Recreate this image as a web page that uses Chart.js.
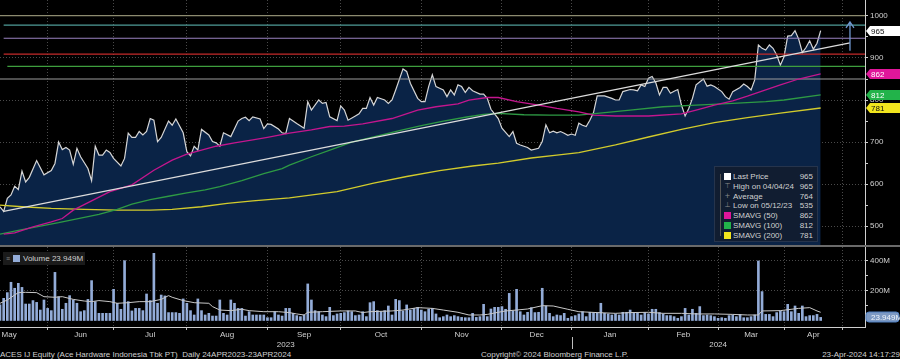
<!DOCTYPE html>
<html lang="en">
<head>
<meta charset="UTF-8">
<script src="https://cdn.jsdelivr.net/npm/chart.js"></script>
<style>
    body {
        margin: 0;
        background: #000;
        width: 900px;
        height: 359px;
        overflow: hidden;
        position: relative;
        font-family: "Liberation Sans", Arial, sans-serif;
        color: #d0d0d0;
    }
    #priceBox { position: absolute; left: 0; top: 0; }
    #sep { position: absolute; left: 0; top: 245px; width: 900px; height: 2px; background: #6a6a6a; }
    #volBox { position: absolute; left: 0; top: 247px; }
    #legend {
        position: absolute; left: 714px; top: 166px; width: 104px; height: 76px;
        background: #111d31; border: 1px solid #26344c; box-sizing: border-box;
        font-size: 8px; line-height: 9.8px; padding-top: 5px;
    }
    #legend .row { position: relative; height: 9.8px; }
    #legend .mk { position: absolute; left: 9px; top: 1px; width: 7px; height: 7px; }
    #legend .gl { position: absolute; left: 9px; top: 0; width: 7px; text-align: center; color: #8a8a8a; font-family: "DejaVu Sans", sans-serif; font-size: 7px; }
    #legend .lb { position: absolute; left: 18px; }
    #legend .vl { position: absolute; right: 4px; }
    #tree { position: absolute; left: 5px; top: 7px; width: 1px; height: 62px; background: #555; }
    #volLegend {
        position: absolute; left: 3px; top: 252px; width: 82px; height: 13px;
        background: #1b1b1b; font-size: 8px; line-height: 13px;
    }
    #volLegend .ic { position: absolute; left: 3px; color: #888; font-size: 7px; }
    #volLegend .sq { position: absolute; left: 10px; top: 3px; width: 7px; height: 7px; background: #93acd8; }
    #volLegend .tx { position: absolute; left: 20px; }
    .foot { position: absolute; top: 350px; font-size: 8px; line-height: 9px; white-space: nowrap; }
</style>
</head>
<body>
    <div id="priceBox"><canvas id="price" width="900" height="245"></canvas></div>
    <div id="sep"></div>
    <div id="volBox"><canvas id="vol" width="900" height="102"></canvas></div>
    <div id="legend"><div id="tree"></div></div>
    <div id="volLegend"><span class="ic">&#8801;</span><span class="sq"></span><span class="tx">Volume 23.949M</span></div>
    <div class="foot" style="left:0">ACES IJ Equity (Ace Hardware Indonesia Tbk PT)&nbsp; Daily 24APR2023-23APR2024</div>
    <div class="foot" style="left:481px">Copyright&copy; 2024 Bloomberg Finance L.P.</div>
    <div class="foot" style="right:0">23-Apr-2024 14:17:29</div>
<script>
// trading sessions counted from 11 May 2023 (session 0) to 23 Apr 2024 (session 224)
const priceSession = [0,1,2,3,4,5,6,7,8,10,12,14,15,16,17,18,19,20,21,22,24,25,26,27,28,29,30,31,33,34,35,36,37,38,39,40,41,42,43,44,46,47,48,50,51,52,53,54,55,57,58,59,60,61,63,65,66,67,68,69,71,72,73,74,76,77,78,79,81,83,84,85,87,88,89,90,92,93,94,95,97,98,99,100,101,102,103,105,106,107,108,110,111,112,114,115,116,117,118,119,120,121,122,123,124,125,126,127,128,129,131,132,133,134,136,137,139,140,141,142,144,145,147,148,149,150,151,152,153,154,155,156,157,158,159,160,161,162,163,165,167,168,169,170,172,173,174,175,176,177,178,179,180,181,182,183,184,185,186,187,188,189,190,192,193,194,195,197,198,199,200,202,203,204,205,206,207,208,209,210,211,212,213,214,215,216,217,218,219,220,221,222,223,224];
const priceClose = [546,535,566,574,595,587,631,605,616,656,622,632,649,700,682,687,681,647,685,665,637,608,690,669,669,681,675,661,643,661,721,711,711,725,717,725,756,752,701,711,750,740,755,722,677,667,690,681,730,717,701,698,690,722,713,750,756,759,751,760,755,732,743,742,731,722,720,756,744,733,796,776,800,792,794,760,751,786,776,752,762,767,780,780,806,788,806,800,792,800,824,874,868,840,804,796,796,832,860,832,828,824,808,824,812,836,832,818,830,822,814,814,804,778,756,733,713,725,697,693,687,681,685,701,741,722,726,722,725,721,716,719,716,745,740,737,752,770,810,810,804,800,800,820,825,824,822,836,832,852,856,841,812,830,830,816,821,825,788,762,780,804,836,850,833,836,832,820,808,802,820,830,838,832,824,848,931,923,919,931,923,907,883,903,952,953,965,945,913,925,941,921,935,965];

const sma50Session = [1,4,9,14,17,20,25,30,36,42,47,51,55,59,64,69,73,79,85,90,94,99,107,114,119,125,128,133,136,141,147,152,158,162,168,177,186,190,195,200,204,209,213,218,224];
const sma50 = [481,484,498,510,518,538,560,582,598,633,657,671,681,690,698,705,711,721,729,737,738,743,756,776,784,791,800,806,806,796,788,780,772,764,762,762,767,776,788,798,809,824,836,850,862];
const sma100Session = [0,5,11,16,23,27,32,36,41,46,51,56,60,66,72,77,79,85,91,96,102,109,115,121,127,132,136,143,150,158,163,172,181,190,200,209,214,224];
const sma100 = [481,490,500,508,521,528,540,552,563,571,579,586,594,608,625,637,645,665,684,700,712,727,739,750,759,766,768,765,764,764,768,776,784,788,792,796,800,812];
const sma200Session = [0,6,14,23,32,41,47,55,62,69,79,92,102,111,120,129,136,145,152,158,168,177,186,195,204,213,224];
const sma200 = [550,546,542,540,538,538,540,546,554,560,567,582,602,618,632,643,650,662,669,675,693,712,730,746,758,769,781];

// drawn study lines
const levelValues = [1001, 978, 947, 909, 880, 850];
const levelFrom = [0, 1, 1, 1, 2, 0];
const trendSession = [1, 232];
const trendValue = [535, 936];
const arrowSession = 232;
const arrowFrom = 917;
const arrowTo = 986;

// daily volume, millions of shares, session 0..224
const volume = [107,151,189,258,218,251,224,113,113,136,124,73,140,84,69,324,162,78,118,169,140,118,62,69,144,269,129,51,51,51,51,211,118,78,402,129,67,84,84,69,180,136,451,118,173,167,56,56,56,51,147,118,69,40,147,69,40,51,33,33,140,51,40,140,118,84,84,33,62,40,40,40,40,22,22,62,40,33,84,
    84,51,36,29,40,247,140,69,62,40,29,91,36,47,51,56,67,62,36,40,62,29,122,129,69,62,69,100,40,144,136,67,107,73,84,91,73,62,78,84,47,22,29,40,29,36,29,24,22,22,51,24,29,111,29,80,91,91,96,78,184,67,211,62,40,58,89,56,58,218,100,51,29,40,36,51,18,29,36,47,
    62,29,58,56,56,118,51,47,40,47,40,58,58,73,56,51,40,56,47,78,78,56,47,36,36,29,18,29,84,40,78,51,96,36,40,36,29,18,22,18,36,40,29,44,22,22,29,40,400,196,44,44,29,56,67,62,111,62,100,51,100,29,36,36,44,23.949];
const volAvgSession = [0,2,4,5,7,10,12,15,17,20,23,25,27,30,32,35,38,41,44,46,47,50,53,57,58,60,63,66,68,72,76,79,81,83,84,88,93,97,99,101,107,110,114,118,121,125,128,131,133,136,138,141,144,148,151,155,158,163,168,172,177,181,186,190,195,200,204,207,208,213,218,221,223,224];
const volAvg = [118,140,173,189,191,189,162,158,162,144,133,129,136,129,118,122,129,129,144,169,158,136,122,118,96,73,69,78,69,62,62,56,47,40,58,62,67,67,56,62,67,73,89,84,73,58,40,40,44,58,67,73,80,102,100,78,62,56,51,56,58,51,51,47,47,44,40,40,67,69,84,89,67,58];

// axis labels
const monthStarts = [13,31,51,73,93,115,137,156,177,196,214,230];
const monthMids = [2.5,22,41,62,83,104,126,146.5,166.5,186.5,205,222];
const monthNames = ['May','Jun','Jul','Aug','Sep','Oct','Nov','Dec','Jan','Feb','Mar','Apr'];
const yearMids = [78, 196];
const yearNames = ['2023', '2024'];
const yearBreak = 156;

const legendNames = ['Last Price','High on 04/04/24','Average','Low on 05/12/23','SMAVG (50)','SMAVG (100)','SMAVG (200)'];
const legendValues = [965, 965, 764, 535, 862, 812, 781];

const X_MAX = 236.1;
const FONT = '"Liberation Sans", Arial, sans-serif';
Chart.defaults.font.family = FONT;
Chart.defaults.font.size = 8;
Chart.defaults.color = '#d0d0d0';
Chart.defaults.animation = false;

const pts = (xs, ys) => xs.map((x, i) => ({x: x, y: ys[i]}));

// legend box
const legendMarks = [
    {sq: '#ffffff'}, {gl: '\u22A4'}, {gl: '+'}, {gl: '\u22A5'},
    {sq: '#e0169a'}, {sq: '#22b34a'}, {sq: '#f2e51e'}
];
const legendEl = document.getElementById('legend');
legendNames.forEach((name, i) => {
    const row = document.createElement('div');
    row.className = 'row';
    const m = legendMarks[i];
    row.innerHTML = (m.sq ? '<span class="mk" style="background:' + m.sq + '"></span>' : '<span class="gl">' + m.gl + '</span>') +
        '<span class="lb">' + name + '</span><span class="vl">' + legendValues[i] + '</span>';
    legendEl.appendChild(row);
});

// value tags on the right axis
function tagPlugin(id, items, rounded) {
    return {
        id: id,
        afterDraw(chart) {
            const ctx = chart.ctx, ys = chart.scales.y, x0 = chart.chartArea.right;
            ctx.save();
            ctx.font = '8px ' + FONT;
            ctx.textBaseline = 'middle';
            items.forEach(t => {
                const py = Math.round(ys.getPixelForValue(t.value));
                ctx.fillStyle = t.bg;
                ctx.beginPath();
                if (rounded) {
                    ctx.roundRect(x0 + 1, py - 5, chart.width - x0 - 2, 10, 3);
                    ctx.fill();
                    ctx.strokeStyle = '#4f7fc0';
                    ctx.lineWidth = 1;
                    ctx.stroke();
                } else {
                    ctx.moveTo(x0 + 1, py);
                    ctx.lineTo(x0 + 5, py - 5);
                    ctx.lineTo(chart.width, py - 5);
                    ctx.lineTo(chart.width, py + 5);
                    ctx.lineTo(x0 + 5, py + 5);
                    ctx.closePath();
                    ctx.fill();
                }
                ctx.fillStyle = t.fg;
                ctx.fillText(t.text, x0 + 6, py + 0.5);
            });
            ctx.restore();
        }
    };
}

const arrowPlugin = {
    id: 'arrow',
    afterDatasetsDraw(chart) {
        const ctx = chart.ctx;
        const x = chart.scales.x.getPixelForValue(arrowSession);
        const y1 = chart.scales.y.getPixelForValue(arrowFrom);
        const y2 = chart.scales.y.getPixelForValue(arrowTo);
        ctx.save();
        ctx.strokeStyle = '#6f97cf';
        ctx.lineWidth = 1.3;
        ctx.beginPath();
        ctx.moveTo(x, y1); ctx.lineTo(x, y2);
        ctx.moveTo(x - 4, y2 + 6); ctx.lineTo(x, y2); ctx.lineTo(x + 4, y2 + 6);
        ctx.stroke();
        ctx.restore();
    }
};

// keep the plot area flush with the canvas edges
const flatY = s => { s.width = 35; s.paddingTop = 0; s.paddingBottom = 0; };

const levelColors = ['#8d8b70', '#4f9c98', '#9a82c0', '#c42a2a', '#3e9e3e', '#9c9c9c'];
const levelSets = levelValues.map((v, i) => ({
    data: [{x: levelFrom[i], y: v}, {x: X_MAX, y: v}],
    borderColor: levelColors[i], borderWidth: 1.2, order: 4
}));

new Chart(document.getElementById('price'), {
    type: 'line',
    data: {
        datasets: [
            { data: pts(trendSession, trendValue), borderColor: '#dcdcdc', borderWidth: 1.2, order: 1 },
            { data: pts(sma50Session, sma50), borderColor: '#c4168e', borderWidth: 1.3, order: 2 },
            { data: pts(sma100Session, sma100), borderColor: '#2e9a44', borderWidth: 1.3, order: 2 },
            { data: pts(sma200Session, sma200), borderColor: '#d2cb2c', borderWidth: 1.3, order: 2 },
            ...levelSets,
            { data: pts(priceSession, priceClose), borderColor: '#d6d6d6', borderWidth: 1.2,
              fill: 'start', backgroundColor: '#0a2346', order: 10 }
        ]
    },
    options: {
        responsive: false,
        layout: { padding: 0 },
        elements: { point: { radius: 0 }, line: { tension: 0 } },
        plugins: { legend: { display: false }, tooltip: { enabled: false } },
        scales: {
            x: {
                type: 'linear', min: 0, max: X_MAX,
                afterBuildTicks: s => { s.ticks = monthStarts.map(v => ({value: v})); },
                afterFit: s => { s.height = 0; s.paddingLeft = 0; s.paddingRight = 0; },
                ticks: { display: false },
                grid: { color: '#4a4a4a', drawTicks: false },
                border: { display: false, dash: [1, 2] }
            },
            y: {
                position: 'right', min: 455, max: 1038,
                afterFit: flatY,
                ticks: {
                    stepSize: 50, includeBounds: false, padding: 2,
                    callback: v => (v % 100 === 0 ? String(v) : '')
                },
                grid: {
                    color: c => (c.tick && c.tick.value % 100 === 0 ? '#4a4a4a' : 'rgba(0,0,0,0)'),
                    tickColor: '#cfcfcf', tickLength: 3
                },
                border: { color: '#cfcfcf', dash: [1, 2] }
            }
        }
    },
    plugins: [arrowPlugin, tagPlugin('priceTags', [
        {value: legendValues[0], text: String(legendValues[0]), bg: '#ffffff', fg: '#111111'},
        {value: legendValues[4], text: String(legendValues[4]), bg: '#e0169a', fg: '#ffffff'},
        {value: legendValues[5], text: String(legendValues[5]), bg: '#22b34a', fg: '#ffffff'},
        {value: legendValues[6], text: String(legendValues[6]), bg: '#f2e51e', fg: '#111111'}
    ], false)]
});

const yearBreakPlugin = {
    id: 'yearBreak',
    afterDraw(chart) {
        const s = chart.scales.x2, ctx = chart.ctx;
        const x = Math.round(s.getPixelForValue(yearBreak)) + 0.5;
        ctx.save();
        ctx.strokeStyle = '#bdbdbd';
        ctx.lineWidth = 1;
        ctx.beginPath();
        ctx.moveTo(x, s.top - 2); ctx.lineTo(x, s.bottom);
        ctx.stroke();
        ctx.restore();
    }
};

new Chart(document.getElementById('vol'), {
    type: 'bar',
    data: {
        datasets: [
            { type: 'line', data: pts(volAvgSession, volAvg), borderColor: '#c8c8c8', borderWidth: 1,
              pointRadius: 0, tension: 0, order: 0 },
            { type: 'bar', data: volume.map((v, i) => ({x: i, y: v})), backgroundColor: '#93acd8',
              barThickness: 2, order: 1 }
        ]
    },
    options: {
        responsive: false,
        layout: { padding: 0 },
        plugins: { legend: { display: false }, tooltip: { enabled: false } },
        scales: {
            x: {
                type: 'linear', min: 0, max: X_MAX, offset: false,
                afterBuildTicks: s => {
                    s.ticks = monthStarts.concat(monthMids).sort((a, b) => a - b).map(v => ({value: v}));
                },
                afterFit: s => { s.height = 12; s.paddingLeft = 0; s.paddingRight = 0; },
                ticks: {
                    autoSkip: false, maxRotation: 0, padding: 0,
                    callback: v => { const k = monthMids.indexOf(v); return k >= 0 ? monthNames[k] : ''; }
                },
                grid: {
                    offset: false,
                    color: c => (c.tick && monthStarts.includes(c.tick.value) ? '#4a4a4a' : 'rgba(0,0,0,0)'),
                    tickColor: c => (c.tick && monthStarts.includes(c.tick.value) ? '#bdbdbd' : 'rgba(0,0,0,0)'),
                    tickLength: 3
                },
                border: { color: '#cfcfcf', dash: [1, 2] }
            },
            x2: {
                type: 'linear', position: 'bottom', min: 0, max: X_MAX, offset: false,
                afterBuildTicks: s => { s.ticks = yearMids.map(v => ({value: v})); },
                afterFit: s => { s.height = 10; s.paddingLeft = 0; s.paddingRight = 0; },
                ticks: {
                    autoSkip: false, maxRotation: 0, padding: 1,
                    callback: v => yearNames[yearMids.indexOf(v)]
                },
                grid: { display: false, drawTicks: false },
                border: { display: false }
            },
            y: {
                position: 'right', min: -40, max: 493,
                afterFit: flatY,
                ticks: {
                    stepSize: 100, includeBounds: false, padding: 2,
                    callback: v => (v > 0 && v % 200 === 0 ? v + 'M' : '')
                },
                grid: {
                    color: c => (c.tick && c.tick.value > 0 && c.tick.value % 200 === 0 ? '#4a4a4a' : 'rgba(0,0,0,0)'),
                    tickColor: '#cfcfcf', tickLength: 3
                },
                border: { color: '#cfcfcf', dash: [1, 2] }
            }
        }
    },
    plugins: [yearBreakPlugin, tagPlugin('volTag', [
        {value: volume[volume.length - 1], text: volume[volume.length - 1].toFixed(3) + 'M', bg: '#7d99c3', fg: '#eef3fa'}
    ], true)]
});
</script>
</body>
</html>
